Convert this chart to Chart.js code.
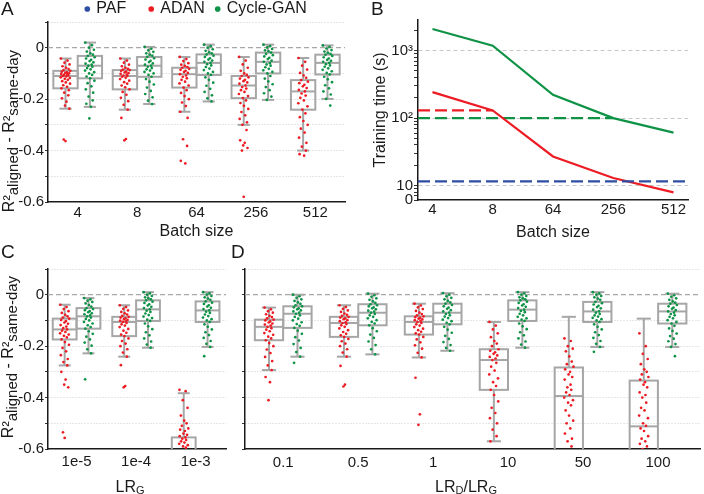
<!DOCTYPE html>
<html><head><meta charset="utf-8">
<script src="https://cdn.jsdelivr.net/npm/chart.js@4.4.1/dist/chart.umd.min.js"></script>
<style>
html,body{margin:0;padding:0;background:#fff;}
body{width:704px;height:494px;position:relative;overflow:hidden;font-family:'Liberation Sans',Arial,Helvetica,sans-serif;color:#1a1a1a;}
.pane{position:absolute;}
.pane canvas{display:block;}
.lbl{position:absolute;font-size:19px;line-height:20px;}
.ytitle{position:absolute;white-space:nowrap;font-size:16px;line-height:16px;transform:translate(-50%,-50%) rotate(-90deg);}
.ytitle sub{font-size:15px;vertical-align:-4px;line-height:0;}
.xtitle{position:absolute;white-space:nowrap;font-size:16px;line-height:16px;transform:translate(-50%,-50%);}
.xtitle sub{font-size:11px;vertical-align:-2px;line-height:0;}
</style></head>
<body>
<div class="pane" style="left:0;top:0"><canvas id="cA" width="360" height="250"></canvas></div>
<div class="pane" style="left:360px;top:0"><canvas id="cB" width="344" height="250"></canvas></div>
<div class="pane" style="left:0;top:250px"><canvas id="cC" width="230" height="244"></canvas></div>
<div class="pane" style="left:230px;top:250px"><canvas id="cD" width="474" height="244"></canvas></div>
<div class="lbl" style="left:1px;top:-1px">A</div>
<div class="lbl" style="left:371px;top:-1px">B</div>
<div class="lbl" style="left:1px;top:242px">C</div>
<div class="lbl" style="left:231px;top:242px">D</div>
<div class="ytitle" style="left:9px;top:131px">R²<sub>aligned</sub> - R²<sub>same-day</sub></div>
<div class="ytitle" style="left:8px;top:357px">R²<sub>aligned</sub> - R²<sub>same-day</sub></div>
<div class="xtitle" style="left:130px;top:487px">LR<sub>G</sub></div>
<div class="xtitle" style="left:466px;top:487px">LR<sub>D</sub>/LR<sub>G</sub></div>
<script>
// ---------------- DATA ----------------
const BATCH_SIZES = ['4','8','64','256','512'];
const LR_G = ['1e-5','1e-4','1e-3'];
const LR_RATIO = ['0.1','0.5','1','10','50','100'];
const SERIES = ['PAF','ADAN','Cycle-GAN'];

const R_TICKS = [-0.6,-0.5,-0.4,-0.3,-0.2,-0.1,0,0.1];
const R_TICK_LABELS = ['-0.6','','-0.4','','-0.2','','0',''];

// box stats per category: [lower whisker, q1, median, q3, upper whisker]
const A_ADAN_BOX = [[-.237,-.158,-.11,-.09,-.042],[-.241,-.162,-.11,-.087,-.042],[-.249,-.155,-.103,-.078,-.036],[-.30,-.196,-.147,-.11,-.036],[-.40,-.241,-.17,-.126,-.04]];
const A_CG_BOX = [[-.23,-.119,-.07,-.032,.02],[-.219,-.113,-.07,-.036,.003],[-.209,-.106,-.059,-.026,.012],[-.203,-.1,-.055,-.019,.012],[-.199,-.104,-.059,-.027,.009]];
const C_ADAN_BOX = [[-.275,-.174,-.135,-.093,-.039],[-.241,-.161,-.106,-.086,-.041],[-.9,-.72,-.64,-.555,-.383]];
const C_CG_BOX = [[-.228,-.132,-.084,-.052,-.013],[-.206,-.102,-.057,-.022,.01],[-.203,-.106,-.061,-.026,.01]];
const D_ADAN_BOX = [[-.293,-.177,-.125,-.097,-.05],[-.241,-.164,-.11,-.086,-.041],[-.244,-.155,-.106,-.084,-.035],[-.57,-.37,-.254,-.212,-.106],[-.8,-.65,-.394,-.283,-.086],[-.85,-.7,-.512,-.334,-.093]];
const D_CG_BOX = [[-.241,-.129,-.074,-.045,0],[-.232,-.119,-.07,-.037,.004],[-.218,-.115,-.07,-.035,.006],[-.206,-.102,-.058,-.022,.01],[-.203,-.106,-.065,-.028,.01],[-.203,-.112,-.065,-.035,.004]];

// individual session values per category
const A_ADAN_PTS = [
 [-.042,-.05,-.058,-.065,-.072,-.078,-.083,-.087,-.09,-.093,-.096,-.098,-.1,-.102,-.104,-.106,-.108,-.11,-.112,-.115,-.118,-.121,-.125,-.13,-.135,-.14,-.146,-.152,-.158,-.165,-.175,-.185,-.197,-.21,-.225,-.237,-.357,-.363],
 [-.042,-.05,-.058,-.066,-.072,-.078,-.082,-.085,-.087,-.09,-.093,-.096,-.099,-.102,-.105,-.108,-.11,-.113,-.117,-.122,-.128,-.134,-.14,-.147,-.154,-.162,-.172,-.183,-.195,-.208,-.222,-.241,-.273,-.355,-.36],
 [-.036,-.044,-.052,-.06,-.066,-.071,-.075,-.078,-.082,-.086,-.09,-.094,-.098,-.103,-.108,-.113,-.119,-.125,-.132,-.139,-.147,-.155,-.165,-.176,-.188,-.2,-.213,-.227,-.249,-.273,-.356,-.382,-.44,-.45],
 [-.036,-.05,-.065,-.078,-.09,-.1,-.106,-.11,-.115,-.12,-.125,-.13,-.135,-.14,-.147,-.153,-.159,-.165,-.172,-.18,-.188,-.196,-.205,-.215,-.226,-.238,-.25,-.263,-.277,-.29,-.3,-.32,-.36,-.37,-.38,-.39,-.4,-.58],
 [-.04,-.055,-.07,-.085,-.098,-.108,-.117,-.126,-.132,-.138,-.144,-.15,-.157,-.164,-.17,-.178,-.186,-.195,-.205,-.216,-.228,-.241,-.255,-.27,-.285,-.3,-.315,-.33,-.35,-.37,-.385,-.4,-.414,-.42]
];
const A_CG_PTS = [
 [.02,.01,0,-.008,-.015,-.022,-.027,-.032,-.037,-.042,-.047,-.052,-.057,-.062,-.066,-.07,-.074,-.079,-.084,-.089,-.095,-.1,-.106,-.112,-.119,-.128,-.138,-.15,-.162,-.175,-.19,-.205,-.218,-.23,-.275],
 [.003,-.004,-.01,-.016,-.022,-.027,-.031,-.036,-.041,-.046,-.051,-.056,-.061,-.066,-.07,-.074,-.079,-.084,-.089,-.094,-.1,-.106,-.113,-.122,-.132,-.143,-.155,-.168,-.18,-.193,-.206,-.219],
 [.012,.006,0,-.006,-.012,-.018,-.022,-.026,-.031,-.036,-.041,-.046,-.05,-.055,-.059,-.064,-.069,-.075,-.081,-.087,-.094,-.1,-.106,-.115,-.125,-.136,-.148,-.16,-.172,-.185,-.197,-.209],
 [.012,.006,.001,-.005,-.01,-.014,-.019,-.024,-.029,-.034,-.039,-.044,-.05,-.055,-.06,-.065,-.07,-.076,-.082,-.088,-.094,-.1,-.11,-.12,-.131,-.142,-.153,-.165,-.177,-.19,-.203],
 [.009,.003,-.003,-.009,-.015,-.02,-.024,-.027,-.032,-.037,-.042,-.047,-.051,-.055,-.059,-.064,-.069,-.074,-.08,-.086,-.092,-.098,-.104,-.113,-.123,-.134,-.146,-.158,-.17,-.182,-.199,-.225]
];
const C_ADAN_PTS = [
 [-.039,-.048,-.056,-.064,-.071,-.078,-.084,-.089,-.093,-.098,-.103,-.108,-.113,-.118,-.124,-.13,-.135,-.14,-.145,-.15,-.155,-.16,-.166,-.174,-.184,-.195,-.207,-.22,-.235,-.25,-.262,-.275,-.3,-.33,-.35,-.36,-.535,-.557],
 [-.041,-.048,-.055,-.061,-.067,-.072,-.077,-.082,-.086,-.089,-.092,-.095,-.098,-.101,-.104,-.106,-.11,-.115,-.12,-.126,-.133,-.14,-.148,-.155,-.161,-.17,-.18,-.19,-.2,-.212,-.225,-.241,-.274,-.355,-.36],
 [-.37,-.375,-.41,-.44,-.47,-.49,-.5,-.51,-.52,-.525,-.53,-.54,-.545,-.55,-.555,-.56,-.565,-.57,-.575,-.58,-.585,-.59,-.595,-.62,-.65,-.7,-.75,-.8]
];
const C_CG_PTS = [
 [-.013,-.018,-.023,-.028,-.034,-.04,-.046,-.052,-.056,-.06,-.064,-.068,-.072,-.076,-.08,-.084,-.089,-.094,-.1,-.106,-.112,-.119,-.126,-.132,-.142,-.152,-.163,-.174,-.186,-.198,-.212,-.228,-.329],
 [.01,.005,0,-.005,-.01,-.014,-.018,-.022,-.027,-.032,-.037,-.042,-.047,-.052,-.057,-.062,-.067,-.073,-.079,-.085,-.091,-.097,-.102,-.112,-.123,-.134,-.146,-.158,-.17,-.182,-.194,-.206],
 [.01,.005,0,-.005,-.01,-.015,-.02,-.026,-.031,-.036,-.041,-.046,-.051,-.056,-.061,-.066,-.071,-.077,-.083,-.089,-.095,-.1,-.106,-.115,-.125,-.135,-.146,-.157,-.168,-.18,-.191,-.203,-.239]
];
const D_ADAN_PTS = [
 [-.05,-.057,-.064,-.07,-.076,-.082,-.087,-.092,-.097,-.1,-.104,-.108,-.112,-.116,-.12,-.125,-.13,-.136,-.142,-.149,-.156,-.163,-.17,-.177,-.188,-.2,-.213,-.227,-.242,-.258,-.275,-.293,-.32,-.34,-.41],
 [-.041,-.048,-.055,-.061,-.067,-.073,-.078,-.082,-.086,-.089,-.092,-.095,-.099,-.103,-.107,-.11,-.114,-.119,-.125,-.131,-.138,-.145,-.152,-.158,-.164,-.172,-.181,-.19,-.2,-.212,-.225,-.241,-.277,-.35,-.357],
 [-.035,-.042,-.049,-.056,-.063,-.07,-.075,-.08,-.084,-.087,-.09,-.093,-.096,-.099,-.102,-.106,-.11,-.115,-.12,-.126,-.132,-.138,-.144,-.15,-.155,-.164,-.174,-.185,-.197,-.21,-.226,-.244,-.323,-.465,-.506],
 [-.106,-.12,-.135,-.15,-.165,-.18,-.19,-.2,-.212,-.218,-.224,-.23,-.236,-.242,-.248,-.254,-.265,-.28,-.295,-.31,-.325,-.34,-.355,-.37,-.39,-.415,-.44,-.46,-.48,-.5,-.525,-.55,-.57],
 [-.17,-.18,-.2,-.21,-.22,-.24,-.26,-.27,-.28,-.29,-.3,-.31,-.32,-.33,-.35,-.36,-.37,-.38,-.39,-.4,-.41,-.42,-.43,-.45,-.47,-.49,-.5,-.52,-.54,-.56,-.57,-.59,-.62,-.66],
 [-.15,-.2,-.23,-.25,-.27,-.29,-.3,-.31,-.32,-.33,-.34,-.35,-.36,-.38,-.39,-.4,-.42,-.44,-.45,-.47,-.48,-.5,-.51,-.52,-.53,-.55,-.56,-.57,-.58,-.59,-.6,-.63]
];
const D_CG_PTS = [
 [0,-.006,-.012,-.018,-.024,-.03,-.036,-.041,-.045,-.049,-.053,-.057,-.061,-.065,-.07,-.074,-.08,-.086,-.093,-.1,-.107,-.114,-.121,-.129,-.14,-.152,-.165,-.178,-.192,-.207,-.223,-.241,-.265],
 [.004,-.002,-.008,-.014,-.02,-.026,-.032,-.037,-.041,-.045,-.049,-.053,-.057,-.062,-.066,-.07,-.075,-.08,-.086,-.092,-.099,-.106,-.112,-.119,-.13,-.142,-.155,-.168,-.182,-.196,-.212,-.232],
 [.006,0,-.006,-.012,-.018,-.024,-.03,-.035,-.04,-.045,-.05,-.055,-.06,-.065,-.07,-.075,-.08,-.085,-.091,-.097,-.103,-.109,-.115,-.125,-.136,-.148,-.16,-.172,-.184,-.196,-.207,-.218],
 [.01,.005,0,-.005,-.01,-.014,-.018,-.022,-.027,-.032,-.037,-.042,-.047,-.052,-.058,-.063,-.068,-.074,-.08,-.086,-.092,-.097,-.102,-.112,-.123,-.134,-.146,-.158,-.17,-.182,-.194,-.206],
 [.01,.005,0,-.005,-.01,-.015,-.02,-.028,-.033,-.038,-.043,-.048,-.053,-.058,-.065,-.07,-.075,-.08,-.085,-.09,-.095,-.1,-.106,-.115,-.125,-.135,-.146,-.157,-.168,-.18,-.191,-.203,-.222],
 [.004,-.002,-.008,-.014,-.02,-.026,-.031,-.035,-.04,-.045,-.05,-.055,-.06,-.065,-.07,-.075,-.08,-.086,-.092,-.099,-.106,-.112,-.121,-.131,-.141,-.151,-.161,-.171,-.181,-.192,-.203,-.239]
];

// Panel B: training time (s) per batch size
const B_ADAN_TIME = [243, 130, 27, 12.9, 7.9];
const B_CG_TIME = [2100, 1186, 221, 100, 61];
const B_ADAN_REF = 130, B_ADAN_REF_END = '8';
const B_CG_REF = 100, B_CG_REF_END = '256';
const B_PAF_REF = 11.5;
const B_Y_MIN = 6.1, B_Y_MAX = 2850;
const B_Y_MAJOR = [10, 100, 1000];
const B_Y_MAJOR_LABELS = ['10', '10²', '10³'];
const B_Y_MIN_LABEL = '0';

// ---------------- STYLE ----------------
const RED = '#ed1c24', GREEN = '#0e9346', BLUE = '#2e4ea3', BOX_GRAY = '#a6a6a6', INK = '#1a1a1a';
const JITTER = [-0.9,0.4,-0.2,0.8,-0.6,0.1,0.6,-0.4,0.95,-0.75,0.25,-0.05,0.7,-0.85,0.35,-0.3,0.5,-0.55,0.15,-0.95,0.85,-0.15,0.45,-0.65,0.05,0.9,-0.45,0.3,-0.8,0.65,-0.25,0.55,-0.7,0.2,-0.1,0.75,-0.35,0.0,-0.5,0.6];
const LEGEND_SPACERS = ['\u2002\u2005', '', ''];

Chart.defaults.font.family = "'Liberation Sans', Arial, Helvetica, sans-serif";
Chart.defaults.font.size = 15;
Chart.defaults.color = INK;
Chart.defaults.animation = false;
Chart.defaults.events = [];
Chart.defaults.plugins.tooltip.enabled = false;
Chart.defaults.plugins.legend.display = false;

const boxPlugin = {
  id: 'boxplot',
  beforeDatasetsDraw(chart, args, opts) {
    if (!opts || !opts.sets) return;
    const {ctx, chartArea: a, scales: {x, y}} = chart;
    ctx.save();
    ctx.beginPath(); ctx.rect(a.left, a.top - 3, a.right - a.left, a.bottom - a.top + 3); ctx.clip();
    ctx.strokeStyle = opts.color; ctx.lineWidth = 2; ctx.setLineDash([]);
    const line = (x1, y1, x2, y2) => { ctx.beginPath(); ctx.moveTo(x1, y1); ctx.lineTo(x2, y2); ctx.stroke(); };
    opts.sets.forEach(set => set.stats.forEach((s, i) => {
      const [lo, q1, med, q3, hi] = s;
      const xc = x.getPixelForValue(i + set.offset);
      const xl = x.getPixelForValue(i + set.offset - opts.width / 2);
      const xr = x.getPixelForValue(i + set.offset + opts.width / 2);
      const cw = (xr - xl) * 0.25;
      const py = v => y.getPixelForValue(v);
      ctx.strokeRect(xl, py(q3), xr - xl, py(q1) - py(q3));
      line(xl, py(med), xr, py(med));
      line(xc, py(q3), xc, py(hi)); line(xc - cw, py(hi), xc + cw, py(hi));
      line(xc, py(q1), xc, py(lo)); line(xc - cw, py(lo), xc + cw, py(lo));
    }));
    ctx.restore();
  }
};
const zeroLinePlugin = {
  id: 'zeroLine',
  beforeDatasetsDraw(chart, args, opts) {
    if (!opts || opts.value === undefined) return;
    const {ctx, chartArea: a, scales: {y}} = chart;
    const py = y.getPixelForValue(opts.value);
    ctx.save(); ctx.strokeStyle = opts.color; ctx.lineWidth = 1.2; ctx.setLineDash([5, 3]);
    ctx.beginPath(); ctx.moveTo(a.left, py); ctx.lineTo(a.right, py); ctx.stroke(); ctx.restore();
  }
};
Chart.register(boxPlugin, zeroLinePlugin);

function strip(groups, offset, spread) {
  const pts = [];
  groups.forEach((vals, i) => vals.forEach((v, k) => pts.push({x: i + offset + JITTER[k % JITTER.length] * spread, y: v})));
  return pts;
}
function ptsDataset(label, data, color) {
  return {label, data, backgroundColor: color, borderColor: color, pointRadius: 1.35, pointBorderWidth: 0, pointStyle: 'circle'};
}
function rScale(showLabels, width) {
  return {
    type: 'linear', min: R_TICKS[0], max: R_TICKS[R_TICKS.length - 1], bounds: 'data',
    afterBuildTicks: s => { s.ticks = R_TICKS.map(v => ({value: v})); },
    afterFit: s => { s.width = width; },
    ticks: { display: showLabels, padding: 1, autoSkip: false,
      callback: v => { const i = R_TICKS.findIndex(t => Math.abs(t - v) < 1e-9); return i >= 0 ? R_TICK_LABELS[i] : ''; } },
    grid: { drawTicks: true, tickLength: 3, tickColor: '#333', tickWidth: 1, lineWidth: 1,
      color: c => (c.tick && (Math.abs(c.tick.value) < 1e-9 || c.tick.value <= R_TICKS[0] + 1e-9)) ? 'rgba(0,0,0,0)' : '#cccccc' },
    border: { display: true, color: INK, width: 1.5, dash: [1, 2] }
  };
}
function catScale(labels, min, max, height, pad, title) {
  return {
    type: 'linear', min, max, bounds: 'data',
    afterBuildTicks: s => { s.ticks = labels.map((_, i) => ({value: i})); },
    afterFit: s => { s.height = height; },
    ticks: { autoSkip: false, maxRotation: 0, padding: pad, callback: v => labels[v] ?? '' },
    grid: { display: false, drawTicks: false },
    border: { display: true, color: INK, width: 1.5 },
    title: title ? {display: true, text: title.text, color: INK, font: {size: 16}, padding: {top: 0, bottom: title.pb}} : {display: false}
  };
}

// ---------------- PANEL A ----------------
new Chart(document.getElementById('cA'), {
  type: 'scatter',
  data: { datasets: [
    ptsDataset(SERIES[0], [], BLUE),
    ptsDataset(SERIES[1], strip(A_ADAN_PTS, -0.205, 0.085), RED),
    ptsDataset(SERIES[2], strip(A_CG_PTS, 0.205, 0.085), GREEN)
  ]},
  options: {
    responsive: false,
    layout: { padding: {top: -11, right: 15, left: 0, bottom: 0} },
    scales: { x: catScale(BATCH_SIZES, -0.5, 4.5, 48, 2, {text: 'Batch size', pb: 8.4}), y: rScale(true, 48) },
    plugins: {
      legend: { display: true, position: 'top', fullSize: false, maxHeight: 33,
        labels: { usePointStyle: true, pointStyle: 'circle', boxWidth: 2, boxHeight: 4, padding: 12, color: INK, font: {size: 16},
          generateLabels(chart) {
            const items = Chart.defaults.plugins.legend.labels.generateLabels(chart);
            items.forEach((it, i) => { it.text = it.text + (LEGEND_SPACERS[i] || ''); });
            return items;
          } } },
      zeroLine: { value: 0, color: '#a8a8a8' },
      boxplot: { sets: [{stats: A_ADAN_BOX, offset: -0.205}, {stats: A_CG_BOX, offset: 0.205}], width: 0.41, color: BOX_GRAY }
    }
  }
});

// ---------------- PANEL B ----------------
const B_X_MIN = -0.24, B_X_MAX = 4.24;
const lineDs = (label, data, color, dash) => ({label, data, borderColor: color, backgroundColor: color, borderWidth: 2.2, pointRadius: 0, tension: 0, borderDash: dash || [], fill: false});
new Chart(document.getElementById('cB'), {
  type: 'line',
  data: { datasets: [
    lineDs('PAF', [{x: B_X_MIN, y: B_PAF_REF}, {x: B_X_MAX, y: B_PAF_REF}], BLUE, [12, 5]),
    lineDs('ADAN', BATCH_SIZES.map((b, i) => ({x: i, y: B_ADAN_TIME[i]})), RED),
    lineDs('Cycle-GAN', BATCH_SIZES.map((b, i) => ({x: i, y: B_CG_TIME[i]})), GREEN),
    lineDs('ADAN ref', [{x: B_X_MIN, y: B_ADAN_REF}, {x: BATCH_SIZES.indexOf(B_ADAN_REF_END), y: B_ADAN_REF}], RED, [12, 5]),
    lineDs('Cycle-GAN ref', [{x: B_X_MIN, y: B_CG_REF}, {x: BATCH_SIZES.indexOf(B_CG_REF_END), y: B_CG_REF}], GREEN, [12, 5])
  ]},
  options: {
    responsive: false,
    layout: { padding: {top: 20, right: 16, left: 0, bottom: 0} },
    scales: {
      x: catScale(BATCH_SIZES, B_X_MIN, B_X_MAX, 50, 1, {text: 'Batch size', pb: 7.4}),
      y: {
        type: 'logarithmic', min: B_Y_MIN, max: B_Y_MAX, bounds: 'data',
        afterBuildTicks: s => {
          const t = [{value: B_Y_MIN}];
          [1, 10, 100, 1000].forEach(d => { for (let m = 1; m < 10; m++) { const v = d * m; if (v > B_Y_MIN && v < B_Y_MAX) t.push({value: v}); } });
          s.ticks = t;
        },
        afterFit: s => { s.width = 58; },
        ticks: { autoSkip: false, padding: 1,
          callback: v => { if (Math.abs(v - B_Y_MIN) < 1e-6) return B_Y_MIN_LABEL; const i = B_Y_MAJOR.indexOf(v); return i >= 0 ? B_Y_MAJOR_LABELS[i] : ''; } },
        grid: { drawTicks: true, tickLength: 4, tickColor: '#333', tickWidth: 1, lineWidth: 1,
          color: c => (c.tick && B_Y_MAJOR.includes(c.tick.value)) ? '#c6c6c6' : 'rgba(0,0,0,0)' },
        border: { display: true, color: INK, width: 1.5, dash: [4, 3] },
        title: { display: true, text: 'Training time (s)', color: INK, font: {size: 16}, padding: {top: 10.9, bottom: 0} }
      }
    }
  }
});

// ---------------- PANEL C ----------------
new Chart(document.getElementById('cC'), {
  type: 'scatter',
  data: { datasets: [
    ptsDataset('ADAN', strip(C_ADAN_PTS, -0.2, 0.08), RED),
    ptsDataset('Cycle-GAN', strip(C_CG_PTS, 0.2, 0.08), GREEN)
  ]},
  options: {
    responsive: false,
    layout: { padding: {top: 19, right: 2, left: 0, bottom: 0} },
    scales: { x: catScale(LR_G, -0.48, 2.51, 45, 4, null), y: rScale(true, 48) },
    plugins: {
      zeroLine: { value: 0, color: '#a8a8a8' },
      boxplot: { sets: [{stats: C_ADAN_BOX, offset: -0.2}, {stats: C_CG_BOX, offset: 0.2}], width: 0.4, color: BOX_GRAY }
    }
  }
});

// ---------------- PANEL D ----------------
new Chart(document.getElementById('cD'), {
  type: 'scatter',
  data: { datasets: [
    ptsDataset('ADAN', strip(D_ADAN_PTS, -0.19, 0.065), RED),
    ptsDataset('Cycle-GAN', strip(D_CG_PTS, 0.19, 0.065), GREEN)
  ]},
  options: {
    responsive: false,
    layout: { padding: {top: 19, right: 1, left: 0, bottom: 0} },
    scales: { x: catScale(LR_RATIO, -0.51, 5.56, 45, 5, null), y: rScale(false, 15) },
    plugins: {
      zeroLine: { value: 0, color: '#a8a8a8' },
      boxplot: { sets: [{stats: D_ADAN_BOX, offset: -0.19}, {stats: D_CG_BOX, offset: 0.19}], width: 0.377, color: BOX_GRAY }
    }
  }
});
</script>
</body></html>
